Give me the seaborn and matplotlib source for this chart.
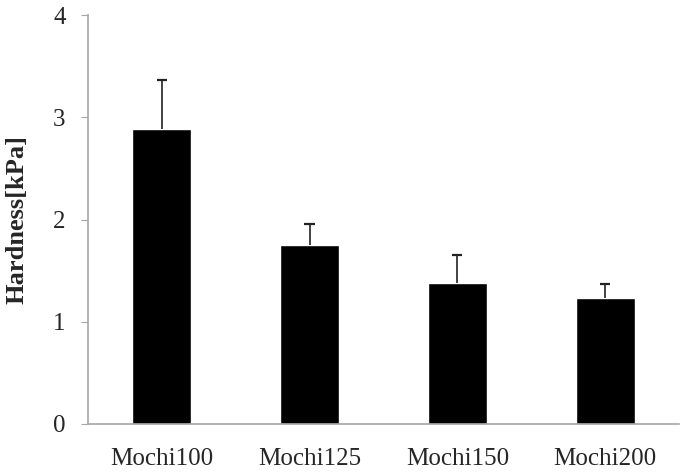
import numpy as np
import pandas as pd
import matplotlib
matplotlib.use("Agg")
import matplotlib.pyplot as plt
import seaborn as sns

samples = ["Mochi100", "Mochi125", "Mochi150", "Mochi200"]
hardness = [2.89, 1.75, 1.38, 1.23]
hardness_sd = [0.48, 0.21, 0.27, 0.14]

df = pd.DataFrame({"sample": samples, "hardness": hardness})

sns.set_style("white")
plt.rcParams["font.family"] = ["Liberation Serif", "DejaVu Serif"]

fig = plt.figure(figsize=(6.81, 4.73), dpi=100)
ax = fig.add_axes([0.129, 0.1036, 0.868, 0.8644])

sns.barplot(data=df, x="sample", y="hardness", color="black", width=0.4,
            saturation=1, ax=ax)

# upper-only error bars
xpos = np.arange(len(samples))
tops = np.array(hardness) + np.array(hardness_sd)
ax.vlines(xpos, hardness, tops, color="#222222", linewidth=1.2, zorder=3)
ax.hlines(tops, xpos - 0.035, xpos + 0.035, color="#222222", linewidth=1.6, zorder=3)

ax.set_xlim(-0.5, 3.5)
ax.set_ylim(0, 4)
ax.set_yticks([0, 1, 2, 3, 4])
ax.set_xlabel("")
ax.set_ylabel("Hardness[kPa]", fontsize=19, fontweight="bold")
ax.yaxis.set_label_coords(-0.1, 0.5)

for s in ["top", "right"]:
    ax.spines[s].set_visible(False)
for s in ["left", "bottom"]:
    ax.spines[s].set_color("#a6a6a6")
    ax.spines[s].set_linewidth(1.2)

ax.tick_params(axis="y", left=True, length=5, color="#a6a6a6", labelsize=18, pad=11)
ax.tick_params(axis="x", bottom=False, labelsize=18, pad=14)

fig.savefig("out.png", dpi=100)
